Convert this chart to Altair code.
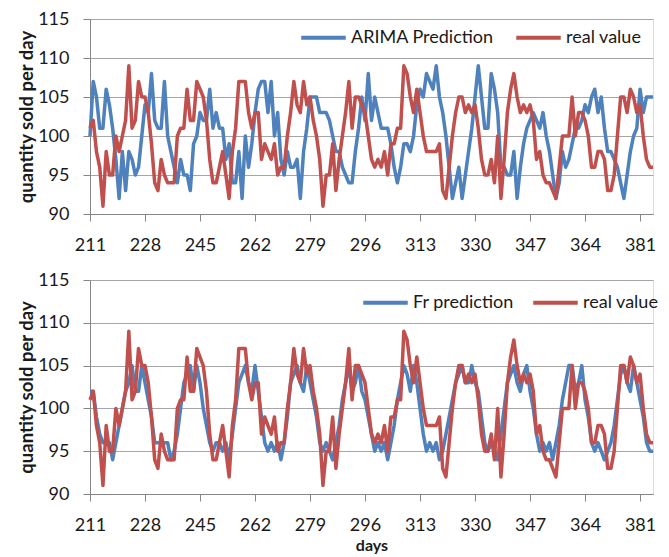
import altair as alt
import pandas as pd

days = list(range(211, 386))
tick_days = [211, 228, 245, 262, 279, 296, 313, 330, 347, 364, 381]
y_ticks = [90, 95, 100, 105, 110, 115]

real_value = [
    101, 102, 98, 96, 91, 98, 95, 95, 100, 98,
    100, 102, 109, 101, 102, 107, 105, 105, 103, 99,
    94, 93, 97, 95, 94, 94, 94, 100, 101, 101,
    106, 102, 102, 107, 106, 105, 102, 97, 94, 94,
    96, 98, 95, 92, 98, 101, 107, 107, 107, 103,
    101, 103, 103, 97, 99, 98, 97, 99, 95, 96,
    96, 100, 103, 107, 104, 103, 107, 104, 105, 102,
    100, 97, 91, 95, 95, 99, 93, 97, 100, 103,
    107, 101, 105, 105, 104, 103, 100, 97, 96, 97,
    96, 98, 95, 99, 99, 101, 101, 109, 108, 105,
    103, 106, 103, 100, 98, 98, 98, 98, 99, 93,
    92, 96, 100, 103, 105, 105, 103, 104, 103, 104,
    101, 97, 95, 95, 97, 94, 100, 92, 97, 103,
    106, 108, 105, 103, 104, 103, 104, 102, 97, 98,
    95, 94, 94, 93, 92, 96, 100, 100, 100, 105,
    100, 103, 103, 102, 100, 96, 96, 98, 98, 97,
    93, 93, 95, 100, 105, 105, 103, 106, 105, 103,
    104, 100, 97, 96, 96,
]

arima_prediction = [
    100, 107, 105, 101, 101, 106, 104, 101, 97, 92,
    98, 93, 98, 97, 95, 96, 100, 104, 103, 108,
    102, 101, 101, 107, 100, 98, 96, 94, 97, 95,
    95, 93, 99, 100, 103, 102, 102, 106, 101, 103,
    101, 101, 97, 99, 94, 94, 98, 92, 100, 96,
    99, 103, 106, 107, 107, 103, 107, 100, 103, 97,
    95, 98, 96, 96, 97, 92, 98, 101, 105, 105,
    105, 103, 103, 103, 102, 100, 98, 98, 96, 95,
    94, 94, 98, 101, 105, 102, 108, 102, 105, 103,
    101, 101, 101, 99, 96, 94, 96, 99, 99, 98,
    100, 104, 106, 105, 108, 107, 106, 109, 105, 103,
    100, 96, 92, 94, 96, 92, 95, 98, 101, 105,
    109, 105, 101, 101, 108, 106, 103, 96, 96, 95,
    95, 98, 92, 96, 99, 101, 102, 103, 102, 101,
    103, 100, 98, 95, 92, 94, 98, 96, 97, 99,
    101, 101, 102, 104, 103, 105, 106, 103, 105, 101,
    98, 98, 97, 96, 94, 92, 95, 98, 100, 101,
    106, 103, 105, 105, 105,
]

fr_prediction = [
    102, 102, 99, 97, 96, 96, 96, 94, 96, 98,
    100, 102, 103, 105, 102, 102, 105, 103, 101, 99,
    96, 96, 96, 96, 96, 94, 95, 97, 100, 103,
    104, 105, 102, 105, 103, 100, 98, 96, 95, 96,
    96, 95, 96, 94, 97, 100, 103, 104, 105, 103,
    102, 105, 102, 99, 96, 95, 96, 95, 96, 94,
    96, 99, 103, 104, 105, 103, 102, 105, 103, 101,
    99, 96, 95, 96, 95, 94, 96, 98, 101, 103,
    105, 102, 103, 105, 102, 101, 99, 97, 95, 96,
    95, 96, 94, 96, 98, 101, 103, 105, 104, 102,
    105, 103, 100, 97, 95, 96, 95, 96, 94, 95,
    97, 99, 101, 103, 104, 105, 103, 103, 105, 103,
    102, 99, 96, 95, 96, 95, 94, 97, 100, 103,
    104, 105, 103, 102, 104, 105, 102, 100, 97, 95,
    96, 95, 96, 94, 96, 98, 101, 103, 105, 105,
    102, 103, 105, 101, 99, 96, 95, 96, 95, 94,
    95, 96, 98, 101, 104, 105, 103, 102, 105, 103,
    101, 99, 96, 95, 95,
]

BLUE = "#4F81BD"
RED = "#C0504D"
GRID = "#a6a6a6"
AXIS = "#868686"
TEXT = "#1a1a1a"
FONT = "Lato"


def panel(pred_name, pred_vals, height, legend_x, legend_y, col_pad, x_title):
    n = len(days)
    df = pd.DataFrame({
        "day": days + days,
        "value": pred_vals + real_value,
        "series": [pred_name] * n + ["real value"] * n,
    })
    x_axis_kw = dict(
        values=tick_days, grid=False, tickSize=7, tickColor=AXIS,
        domainColor=AXIS, labelFontSize=18, labelColor=TEXT,
        labelPadding=15, labelFont=FONT, labelFlush=False,
    )
    if x_title:
        x_axis_kw.update(title=x_title, titleFontSize=16, titleFontWeight="bold",
                         titleColor=TEXT, titlePadding=3, titleFont=FONT)
    else:
        x_axis_kw.update(title="")
    return alt.Chart(df).mark_line(strokeWidth=3.5, strokeJoin="round").encode(
        x=alt.X("day:Q", scale=alt.Scale(domain=[211, 385], nice=False, zero=False),
                axis=alt.Axis(**x_axis_kw)),
        y=alt.Y("value:Q", scale=alt.Scale(domain=[90, 115], nice=False, zero=False),
                axis=alt.Axis(values=y_ticks, title="quantity sold per day",
                              titleFontSize=18.5, titleFontWeight="bold", titleColor=TEXT,
                              titleFont=FONT, titlePadding=1,
                              labelFontSize=18, labelColor=TEXT, labelFont=FONT,
                              labelPadding=14, tickSize=7, tickColor=AXIS,
                              domainColor=AXIS, grid=True, gridColor=GRID)),
        color=alt.Color("series:N",
                        scale=alt.Scale(domain=[pred_name, "real value"], range=[BLUE, RED]),
                        legend=alt.Legend(orient="none", legendX=legend_x, legendY=legend_y,
                                          direction="horizontal", title="",
                                          symbolType="stroke", symbolStrokeWidth=4,
                                          symbolSize=1980, labelFontSize=18,
                                          labelFont=FONT, labelColor=TEXT,
                                          labelOffset=3, columnPadding=col_pad,
                                          padding=0, labelLimit=300)),
    ).properties(width=563, height=height)


top = panel("ARIMA Prediction", arima_prediction, 195, 209, -6, 14, None)
bottom = panel("Fr prediction", fr_prediction, 214, 271, -2, 11, "days")

chart = alt.vconcat(top, bottom, spacing=15).resolve_scale(
    color="independent"
).resolve_legend(color="independent").properties(
    padding={"left": 9, "top": 1, "right": 0, "bottom": 0}
).configure_view(stroke=None).configure(font=FONT)

chart.save("out.html", embed_options={"renderer": "svg", "actions": False})
